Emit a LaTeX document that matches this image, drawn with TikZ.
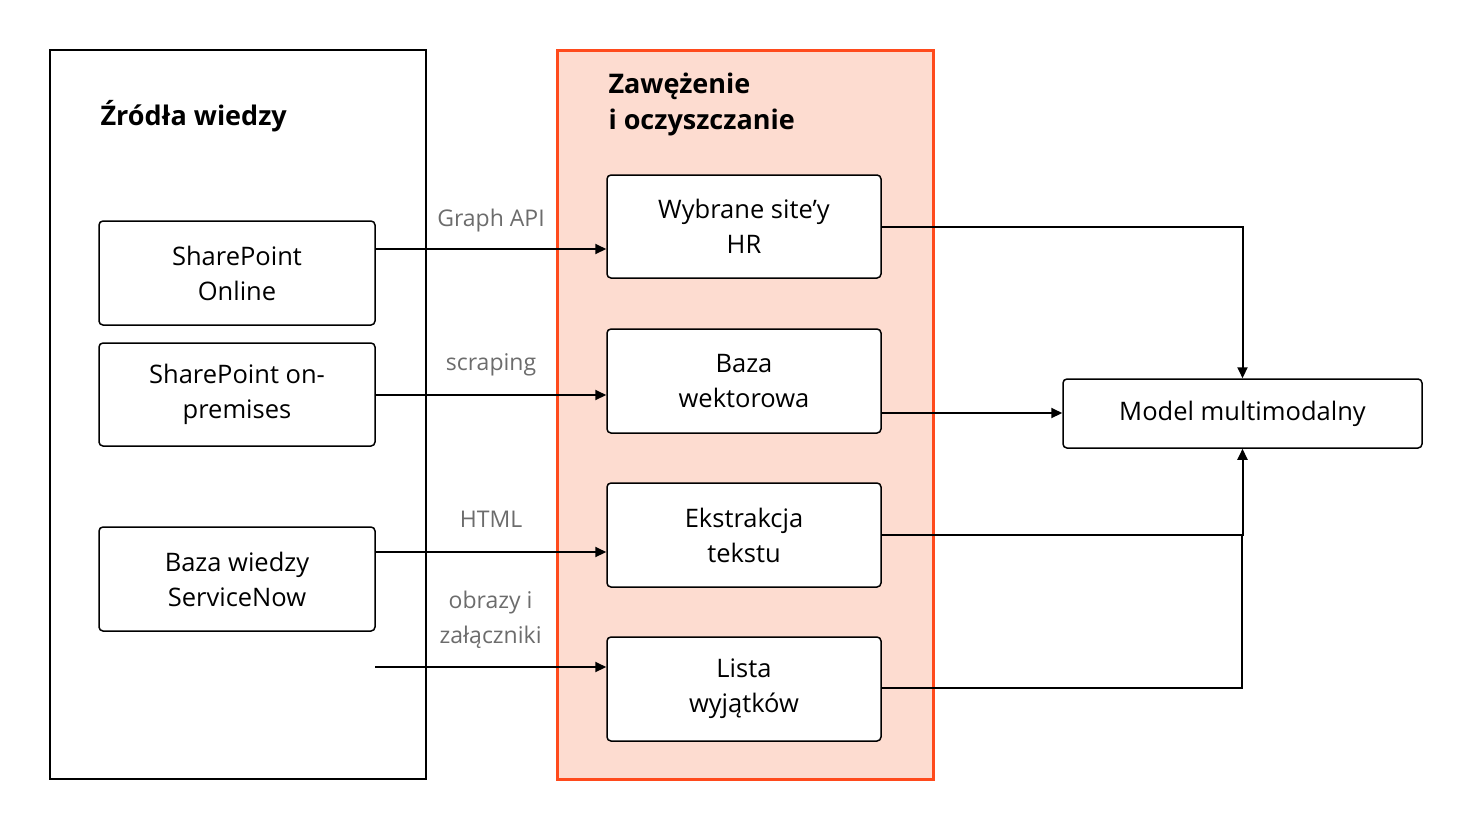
\documentclass[tikz,border=0pt]{standalone}
\usepackage{fontspec}
\setmainfont{Open Sans}
\usetikzlibrary{arrows.meta}
\definecolor{orng}{HTML}{FF4A1C}
\definecolor{salmon}{HTML}{FDDCD0}
\begin{document}
\begin{tikzpicture}[x=1pt,y=-1pt,
  box/.style={draw=black,line width=1.5pt,fill=white,rounded corners=4pt,align=center,font=\fontsize{25.5}{35}\selectfont,inner sep=0pt},
  lab/.style={text=gray!85!black,align=center,font=\fontsize{23}{35}\selectfont},
  ttl/.style={anchor=west,align=left,font=\fontsize{27}{36}\selectfont\bfseries},
  arr/.style={line width=2pt,-{Triangle[length=11pt,width=10pt]}},
  ln/.style={line width=2pt}]
\useasboundingbox (0,0) rectangle (1472,828);
\node[draw=black,line width=1.5pt,minimum width=376pt,minimum height=729pt,anchor=north west,inner sep=0] (src) at (49,49) {};
\node[draw=orng,fill=salmon,line width=3pt,minimum width=376pt,minimum height=729pt,anchor=north west,inner sep=0] (proc) at (556,49) {};
\node[ttl] (t1) at (97,116) {Źródła wiedzy};
\node[ttl] (t2) at (605,104) {Zawężenie\\i oczyszczanie};
\node[box,minimum width=276pt,minimum height=104pt] (spo) at (237,273) {SharePoint\\Online};
\node[box,minimum width=276pt,minimum height=103pt] (spp) at (237,394.5) {SharePoint on-\\premises};
\node[box,minimum width=276pt,minimum height=104pt] (sn) at (237,579) {Baza wiedzy\\ServiceNow};
\node[box,minimum width=274pt,minimum height=103pt] (w) at (744,226.5) {Wybrane site{\char"27}y\\HR};
\node[box,minimum width=274pt,minimum height=104pt] (b) at (744,381) {Baza\\wektorowa};
\node[box,minimum width=274pt,minimum height=104pt] (e) at (744,535) {Ekstrakcja\\tekstu};
\node[box,minimum width=274pt,minimum height=104pt] (l) at (744,689) {Lista\\wyjątków};
\node[box,minimum width=359pt,minimum height=69pt] (m) at (1242.5,413.5) {Model multimodalny};
\coordinate (free) at (375,667);
\draw[arr] (spo.east|-0,249) -- (w.west|-0,249) node[lab,midway,above=13pt] {Graph API};
\draw[arr] (spp.east|-0,395) -- (b.west|-0,395) node[lab,midway,above=15pt] {scraping};
\draw[arr] (sn.east|-0,552) -- (e.west|-0,552) node[lab,midway,above=20pt] {HTML};
\draw[arr] (free) -- (l.west|-free) node[lab,midway,above=14pt] {obrazy i\\załączniki};
\draw[arr] (w.east|-0,227) -| (m.north);
\draw[arr] (b.east|-0,413) -- (m.west|-0,413);
\draw[arr] (e.east|-0,535) -| (m.south);
\draw[ln] (l.east|-0,688) -| (1242,535);
\end{tikzpicture}
\end{document}
